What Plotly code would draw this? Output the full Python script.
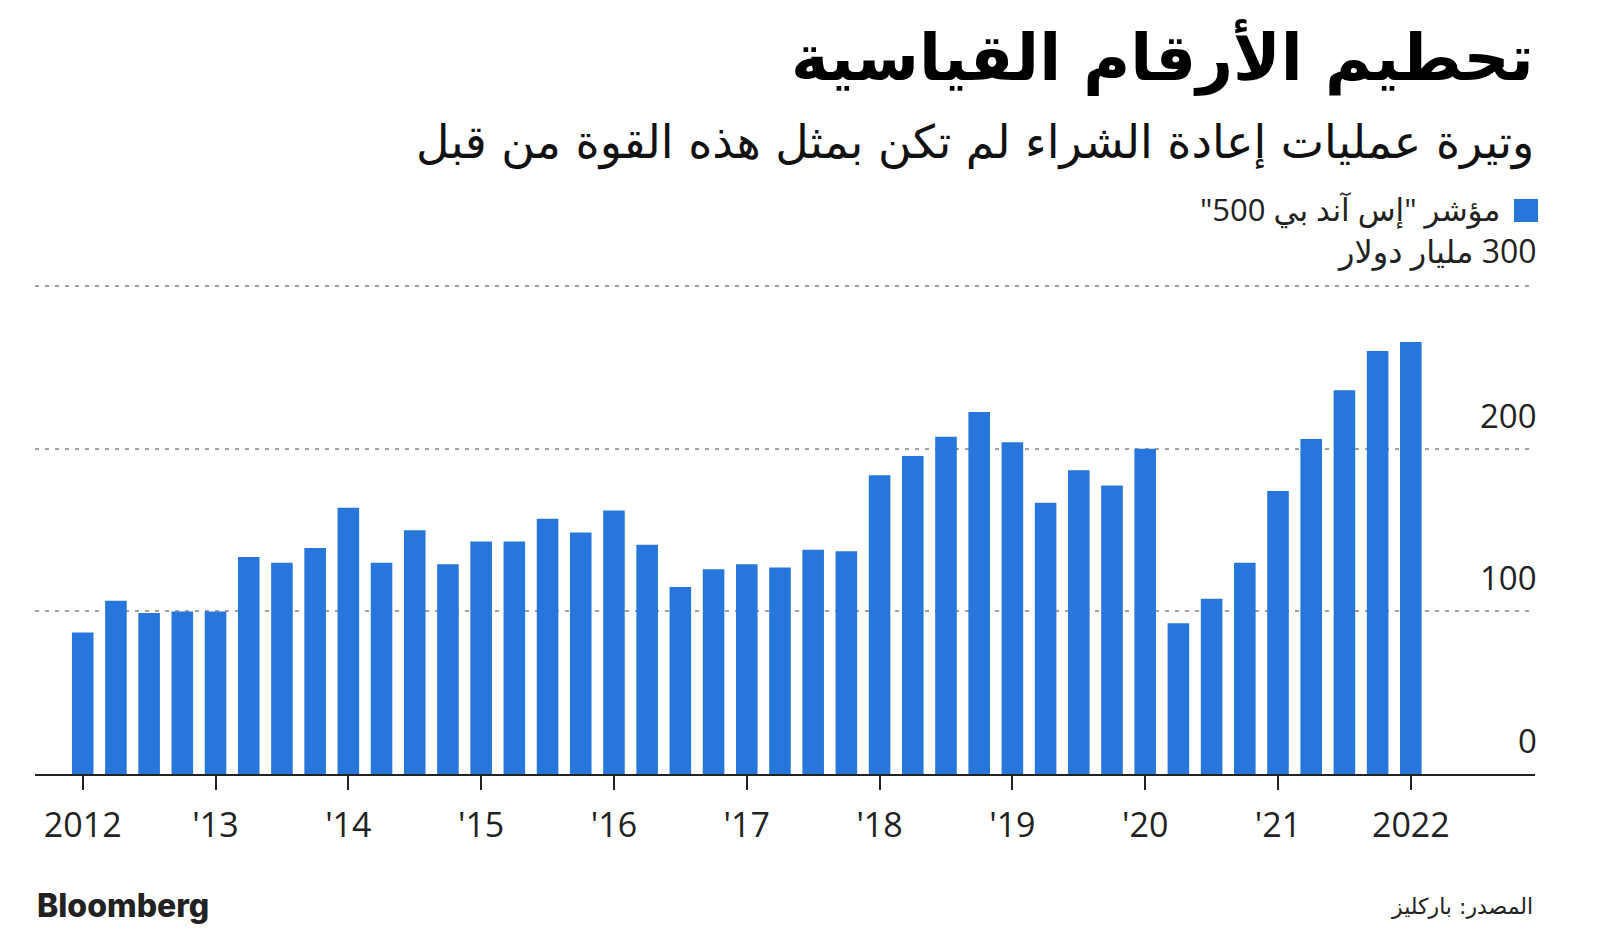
import plotly.graph_objects as go

quarters = list(range(41))  # 2012 Q1 .. 2022 Q1
buybacks = [87, 106.5, 99, 100, 100, 133.5, 130, 139, 163.7, 130,
            150, 129, 143, 143, 157, 148.6, 162, 141, 115, 126,
            129, 127, 138, 137, 183.7, 195.6, 207.5, 222.6, 204, 166.8,
            186.8, 177.4, 200, 92.8, 107.8, 130, 174, 206, 236, 260.2,
            265.7]
tick_vals = [0, 4, 8, 12, 16, 20, 24, 28, 32, 36, 40]
tick_text = ["2012", "'13", "'14", "'15", "'16", "'17", "'18", "'19", "'20", "'21", "2022"]
y_vals = [0, 100, 200, 300]
y_text = ["0", "100", "200", "300 مليار دولار"]

BLUE = "#2676DB"
AR = "DejaVu Sans"
NUM = "Open Sans"
RLE, PDF = "\u202b", "\u202c"

# plot area in screen pixels (page has an 8px body margin)
PX0, PW = 35, 1500
PY0, PH = 774, 504


def px(x):
    return (x - PX0) / PW


def py(y):
    return (PY0 - y) / PH


fig = go.Figure()
fig.add_trace(go.Bar(x=quarters, y=buybacks, marker=dict(color=BLUE, line=dict(width=0)),
                     width=0.65, showlegend=False))

fig.update_layout(
    width=1584, height=923,
    margin=dict(l=27, r=57, t=262, b=157),
    paper_bgcolor="white", plot_bgcolor="white",
    xaxis=dict(range=[-1.437, 43.74], tickvals=tick_vals, ticktext=tick_text,
               ticks="outside", ticklen=14, tickwidth=2, tickcolor="#222",
               ticklabelstandoff=6,
               showgrid=False, zeroline=False,
               showline=True, linecolor="#222", linewidth=2,
               tickfont=dict(family=NUM, size=34, color="#222")),
    yaxis=dict(range=[0, 310], side="right", tickvals=y_vals, showticklabels=False, ticks="",
               showgrid=True, gridcolor="#a0a0a0", gridwidth=2, griddash="4px,6px",
               zeroline=False, showline=False),
)

# y-axis labels, placed above their gridlines at the right edge
for v, t in zip(y_vals, y_text):
    is_unit = not t.isdigit()
    fig.add_annotation(x=1, xref="paper", y=v, yref="y",
                       yshift=12 if is_unit else 9, xshift=4,
                       text=(RLE + t + PDF) if is_unit else t, showarrow=False,
                       xanchor="right", yanchor="bottom",
                       font=dict(family=NUM + ", " + AR, size=32 if is_unit else 33, color="#222"))

# Legend
fig.add_shape(type="rect", xref="paper", yref="paper",
              x0=px(1514), x1=px(1538), y0=py(199), y1=py(222),
              fillcolor=BLUE, line=dict(width=0))
fig.add_annotation(x=px(1502), xref="paper", y=py(209), yref="paper",
                   text=RLE + 'مؤشر "إس آند بي 500"' + PDF, showarrow=False,
                   xanchor="right", yanchor="middle",
                   font=dict(family=NUM + ", " + AR, size=31, color="#222"))

# Title & subtitle
fig.add_annotation(x=px(1536), xref="paper", y=py(58), yref="paper",
                   text="<b>تحطيم الأرقام القياسية</b>", showarrow=False,
                   xanchor="right", yanchor="middle",
                   font=dict(family=AR, size=64, color="#000"))
fig.add_annotation(x=px(1536), xref="paper", y=py(142), yref="paper",
                   text="وتيرة عمليات إعادة الشراء لم تكن بمثل هذه القوة من قبل", showarrow=False,
                   xanchor="right", yanchor="middle",
                   font=dict(family=AR, size=46, color="#111"))

# Footer
fig.add_annotation(x=0, xref="paper", y=py(905), yref="paper",
                   text="Bloomberg", showarrow=False, xanchor="left", yanchor="middle",
                   font=dict(family="Inter", size=32, color="#222", weight=800))
fig.add_annotation(x=px(1535), xref="paper", y=py(906), yref="paper",
                   text=RLE + "المصدر: باركليز" + PDF, showarrow=False, xanchor="right", yanchor="middle",
                   font=dict(family=AR, size=22, color="#222"))

fig.write_html("out.html")
